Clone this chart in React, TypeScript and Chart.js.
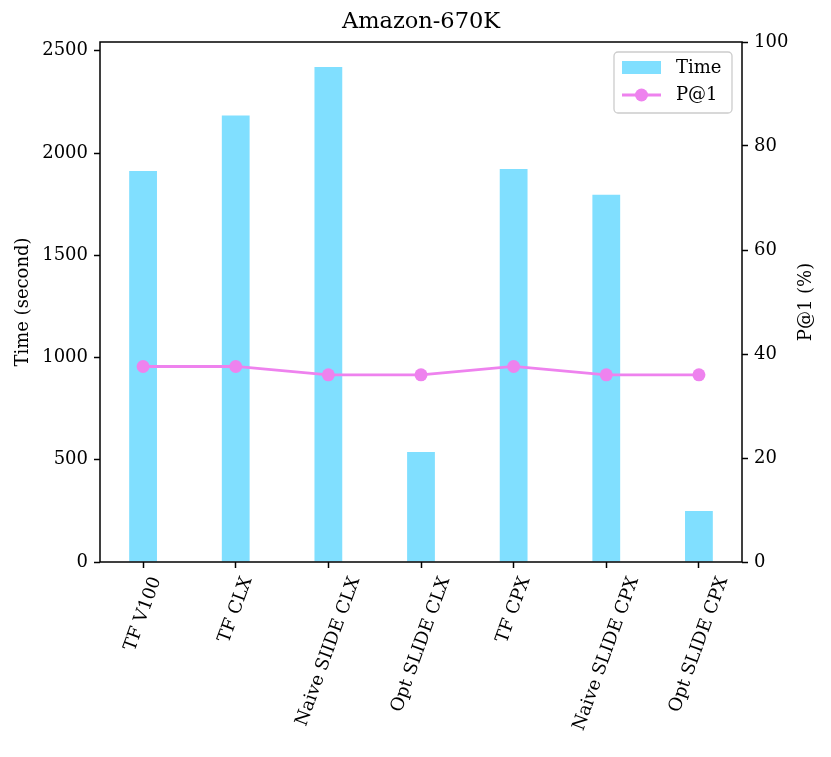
import { useEffect, useRef } from 'react';
import { Chart, registerables } from 'chart.js';

Chart.register(...registerables);

const categories = [
  'TF V100',
  'TF CLX',
  'Naive SIIDE CLX',
  'Opt SLIDE CLX',
  'TF CPX',
  'Naive SLIDE CPX',
  'Opt SLIDE CPX',
];
const timeValues = [1912, 2183, 2421, 538, 1922, 1796, 249];
const p1Values = [37.6, 37.6, 36.0, 36.0, 37.6, 36.0, 36.0];
const timeTicks = [0, 500, 1000, 1500, 2000, 2500];
const p1Ticks = [0, 20, 40, 60, 80, 100];

const FONT = '"DejaVu Serif", serif';
const BAR_COLOR = '#80dfff';
const LINE_COLOR = '#ee82ee';
const TICK_LEN = 6;
const TICK_PAD = 6;

const decorations = {
  id: 'decorations',
  afterDraw(chart: Chart) {
    const { ctx, chartArea } = chart;
    const { left, right, top, bottom } = chartArea;
    const xScale = chart.scales.x;
    ctx.save();

    // frame
    ctx.strokeStyle = '#000';
    ctx.lineWidth = 1.5;
    ctx.strokeRect(left, top, right - left, bottom - top);

    ctx.fillStyle = '#000';

    // title
    ctx.font = `22.5px ${FONT}`;
    ctx.textAlign = 'center';
    ctx.textBaseline = 'middle';
    ctx.fillText('Amazon-670K', (left + right) / 2, 22);

    // axis titles
    ctx.font = `18px ${FONT}`;
    const midY = (top + bottom) / 2;
    ctx.save();
    ctx.translate(23, midY);
    ctx.rotate(-Math.PI / 2);
    ctx.fillText('Time (second)', 0, 0);
    ctx.restore();
    ctx.save();
    ctx.translate(806, midY);
    ctx.rotate(-Math.PI / 2);
    ctx.fillText('P@1 (%)', 0, 0);
    ctx.restore();

    // rotated x labels, centred under the tick like matplotlib
    const ang = (70 * Math.PI) / 180;
    categories.forEach((label, i) => {
      const x = xScale.getPixelForValue(i);
      const w = ctx.measureText(label).width;
      const h = 18 * 1.17;
      const boxH = w * Math.sin(ang) + h * Math.cos(ang);
      const cy = bottom + TICK_LEN + TICK_PAD + boxH / 2;
      ctx.save();
      ctx.translate(x, cy);
      ctx.rotate(-ang);
      ctx.textAlign = 'center';
      ctx.textBaseline = 'middle';
      ctx.fillText(label, 0, 0);
      ctx.restore();
    });

    // legend (upper right, inside axes)
    const lx = right - 128;
    const ly = top + 10;
    const lw = 118;
    const lh = 61;
    ctx.beginPath();
    ctx.roundRect(lx, ly, lw, lh, 4);
    ctx.fillStyle = 'rgba(255,255,255,0.8)';
    ctx.fill();
    ctx.strokeStyle = '#cccccc';
    ctx.lineWidth = 1.3;
    ctx.stroke();

    ctx.fillStyle = BAR_COLOR;
    ctx.fillRect(lx + 8, ly + 9, 39, 13);

    const lineY = ly + 43;
    ctx.strokeStyle = LINE_COLOR;
    ctx.lineWidth = 2.8;
    ctx.beginPath();
    ctx.moveTo(lx + 8, lineY);
    ctx.lineTo(lx + 47, lineY);
    ctx.stroke();
    ctx.fillStyle = LINE_COLOR;
    ctx.beginPath();
    ctx.arc(lx + 27.5, lineY, 6.5, 0, Math.PI * 2);
    ctx.fill();

    ctx.fillStyle = '#000';
    ctx.font = `18px ${FONT}`;
    ctx.textAlign = 'left';
    ctx.textBaseline = 'middle';
    ctx.fillText('Time', lx + 62, ly + 16);
    ctx.fillText('P@1', lx + 62, lineY);

    ctx.restore();
  },
};

const App = () => {
  const canvasRef = useRef<HTMLCanvasElement | null>(null);

  useEffect(() => {
    document.body.style.margin = '0';
    if (!canvasRef.current) return;

    const tickFont = { family: FONT, size: 18 };
    const grid = {
      drawOnChartArea: false,
      drawTicks: true,
      offset: false,
      tickLength: TICK_LEN,
      tickWidth: 1.5,
      tickColor: '#000',
      color: '#000',
    };
    const plainLabel = (v: string | number) => String(v);

    const chart = new Chart(canvasRef.current, {
      type: 'bar',
      data: {
        datasets: [
          {
            type: 'bar',
            label: 'Time',
            data: timeValues.map((v, i) => ({ x: i, y: v })),
            backgroundColor: BAR_COLOR,
            borderWidth: 0,
            barPercentage: 0.3,
            categoryPercentage: 1,
            yAxisID: 'y',
            order: 2,
          },
          {
            type: 'line',
            label: 'P@1',
            data: p1Values.map((v, i) => ({ x: i, y: v })),
            borderColor: LINE_COLOR,
            backgroundColor: LINE_COLOR,
            borderWidth: 2.8,
            pointRadius: 6.5,
            pointBorderWidth: 0,
            pointBackgroundColor: LINE_COLOR,
            yAxisID: 'y1',
            order: 1,
          },
        ],
      },
      options: {
        responsive: true,
        maintainAspectRatio: false,
        animation: false,
        layout: { padding: { top: 42, left: 0, right: 0, bottom: 0 } },
        plugins: {
          legend: { display: false },
          title: { display: false },
          tooltip: { enabled: false },
        },
        scales: {
          x: {
            type: 'linear',
            min: -0.465,
            max: 6.465,
            offset: false,
            grid,
            border: { display: false },
            ticks: { display: false },
            afterBuildTicks: (s: any) => {
              s.ticks = categories.map((_, i) => ({ value: i }));
            },
            afterFit: (s: any) => {
              s.height = 757 - 562;
            },
          },
          y: {
            type: 'linear',
            position: 'left',
            min: 0,
            max: 2543,
            grid,
            border: { display: false },
            ticks: { font: tickFont, color: '#000', padding: TICK_PAD, callback: plainLabel },
            afterBuildTicks: (s: any) => {
              s.ticks = timeTicks.map((v) => ({ value: v }));
            },
            afterFit: (s: any) => {
              s.width = 100;
            },
          },
          y1: {
            type: 'linear',
            position: 'right',
            min: 0,
            max: 100,
            grid,
            border: { display: false },
            ticks: { font: tickFont, color: '#000', padding: TICK_PAD, callback: plainLabel },
            afterBuildTicks: (s: any) => {
              s.ticks = p1Ticks.map((v) => ({ value: v }));
            },
            afterFit: (s: any) => {
              s.width = 831 - 742;
            },
          },
        },
      },
      plugins: [decorations],
    });

    return () => chart.destroy();
  }, []);

  return (
    <div style={{ position: 'relative', width: 831, height: 757 }}>
      <canvas ref={canvasRef} />
    </div>
  );
};

export default App;
